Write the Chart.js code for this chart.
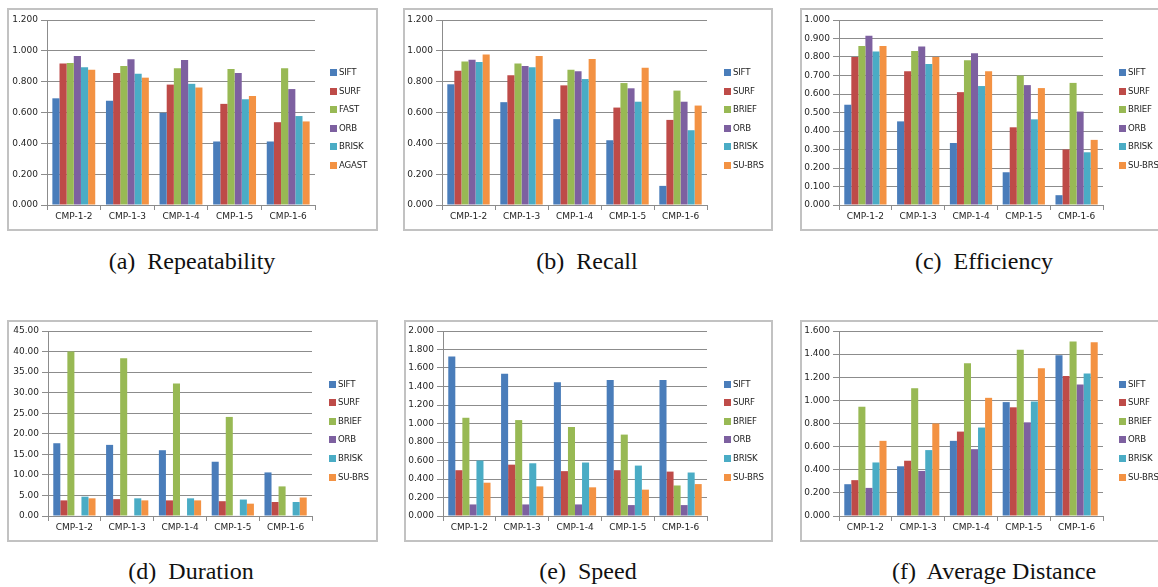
<!DOCTYPE html>
<html>
<head>
<meta charset="utf-8">
<script src="https://cdn.jsdelivr.net/npm/chart.js@4.4.1/dist/chart.umd.min.js"></script>
<style>
  html, body { margin:0; padding:0; background:#fff; }
  body { width:1158px; height:587px; position:relative; overflow:hidden; }
  .frame { position:absolute; box-sizing:border-box; border:2px solid #c2c2c2; background:#fff; }
  .frame canvas { position:absolute; left:0; top:0; }
  .cap { position:absolute; font-family:'Liberation Serif','DejaVu Serif',serif; font-size:24px; color:#111;
         white-space:pre; transform:translate(-50%,-50%); line-height:1; }
</style>
</head>
<body>
<div class="frame" style="left:7px;top:8px;width:371px;height:223px"><canvas id="cA" width="367" height="219"></canvas></div>
<div class="frame" style="left:403px;top:8px;width:370px;height:223px"><canvas id="cB" width="366" height="219"></canvas></div>
<div class="frame" style="left:800px;top:8px;width:362px;height:223px"><canvas id="cC" width="358" height="219"></canvas></div>
<div class="frame" style="left:7px;top:320px;width:371px;height:222px"><canvas id="cD" width="367" height="218"></canvas></div>
<div class="frame" style="left:404px;top:320px;width:369px;height:222px"><canvas id="cE" width="365" height="218"></canvas></div>
<div class="frame" style="left:800px;top:320px;width:362px;height:222px"><canvas id="cF" width="358" height="218"></canvas></div>

<div class="cap" style="left:192px;top:261px">(a)  Repeatability</div>
<div class="cap" style="left:587px;top:261px">(b)  Recall</div>
<div class="cap" style="left:984px;top:261px">(c)  Efficiency</div>
<div class="cap" style="left:191px;top:571px">(d)  Duration</div>
<div class="cap" style="left:588px;top:571px">(e)  Speed</div>
<div class="cap" style="left:994px;top:571px">(f)  Average Distance</div>

<script>
// ---------- DATA ----------
const categories = ['CMP-1-2', 'CMP-1-3', 'CMP-1-4', 'CMP-1-5', 'CMP-1-6'];
const seriesDetectors = ['SIFT', 'SURF', 'FAST', 'ORB', 'BRISK', 'AGAST'];
const seriesMethods = ['SIFT', 'SURF', 'BRIEF', 'ORB', 'BRISK', 'SU-BRS'];
const seriesColors = ['#4A7DBA', '#BE4B48', '#98B954', '#7D60A0', '#4AACC5', '#F39243'];

// rows follow the series order; columns follow categories
const repeatability = [
  [0.692, 0.677, 0.598, 0.412, 0.412],
  [0.918, 0.857, 0.781, 0.656, 0.537],
  [0.921, 0.901, 0.887, 0.882, 0.887],
  [0.966, 0.946, 0.941, 0.857, 0.752],
  [0.893, 0.852, 0.786, 0.686, 0.577],
  [0.877, 0.826, 0.762, 0.707, 0.542]
];
const recall = [
  [0.783, 0.667, 0.557, 0.420, 0.124],
  [0.871, 0.841, 0.776, 0.632, 0.552],
  [0.931, 0.918, 0.878, 0.791, 0.742],
  [0.942, 0.902, 0.867, 0.757, 0.670],
  [0.927, 0.893, 0.817, 0.670, 0.485],
  [0.976, 0.966, 0.947, 0.891, 0.645]
];
const efficiency = [
  [0.542, 0.452, 0.335, 0.177, 0.053],
  [0.800, 0.723, 0.610, 0.420, 0.300],
  [0.859, 0.832, 0.782, 0.700, 0.660],
  [0.915, 0.857, 0.820, 0.648, 0.505],
  [0.830, 0.762, 0.643, 0.463, 0.285],
  [0.860, 0.800, 0.723, 0.632, 0.352]
];
const duration = [
  [17.7, 17.3, 16.0, 13.2, 10.6],
  [3.8, 4.1, 3.8, 3.6, 3.4],
  [40.0, 38.4, 32.2, 24.1, 7.2],
  [0.1, 0.1, 0.1, 0.1, 0.1],
  [4.7, 4.3, 4.3, 4.0, 3.4],
  [4.3, 3.8, 3.8, 3.0, 4.5]
];
const speed = [
  [1.725, 1.537, 1.445, 1.470, 1.470],
  [0.495, 0.555, 0.485, 0.495, 0.480],
  [1.062, 1.037, 0.962, 0.880, 0.330],
  [0.125, 0.125, 0.125, 0.118, 0.118],
  [0.600, 0.570, 0.578, 0.545, 0.470],
  [0.360, 0.320, 0.310, 0.285, 0.345]
];
const avgDistance = [
  [0.275, 0.430, 0.650, 0.985, 1.390],
  [0.310, 0.478, 0.730, 0.940, 1.210],
  [0.945, 1.105, 1.322, 1.437, 1.510],
  [0.243, 0.390, 0.578, 0.810, 1.137],
  [0.463, 0.570, 0.765, 0.990, 1.232],
  [0.650, 0.800, 1.022, 1.278, 1.503]
];

// y axis ranges: [min, max, step, decimals]
const axisRepeatability = [0, 1.2, 0.2, 3];
const axisRecall = [0, 1.2, 0.2, 3];
const axisEfficiency = [0, 1.0, 0.1, 3];
const axisDuration = [0, 45, 5, 2];
const axisSpeed = [0, 2.0, 0.2, 3];
const axisAvgDistance = [0, 1.6, 0.2, 3];

// ---------- RENDERING ----------
const FONT = "'DejaVu Sans', Verdana, sans-serif";
const TEXT = '#1e1e1e';
const GRID = '#8c8c8c';

const sideLegend = {
  id: 'sideLegend',
  afterDraw(chart, args, o) {
    const ctx = chart.ctx, ca = chart.chartArea, ds = chart.data.datasets;
    const sp = o.spacing, n = ds.length;
    const y0 = chart.height / 2 - (n - 1) * sp / 2;
    ctx.save();
    ctx.font = '8.6px ' + FONT;
    if ('letterSpacing' in ctx) ctx.letterSpacing = '-0.2px';
    ctx.textBaseline = 'middle';
    ctx.textAlign = 'left';
    ds.forEach((d, i) => {
      const y = Math.round(y0 + i * sp);
      const x = Math.round(ca.right + o.dx);
      ctx.fillStyle = d.backgroundColor;
      ctx.fillRect(x, y - 4, 7, 7);
      ctx.fillStyle = TEXT;
      ctx.fillText(d.label, x + 9, y);
    });
    ctx.restore();
  }
};

function makeChart(id, names, values, axis, box) {
  const [ymin, ymax, step, dec] = axis;
  const canvas = document.getElementById(id);
  new Chart(canvas, {
    type: 'bar',
    data: {
      labels: categories,
      datasets: names.map((n, i) => ({
        label: n,
        data: values[i],
        backgroundColor: seriesColors[i],
        borderWidth: 0,
        barPercentage: 1.0,
        categoryPercentage: 0.8
      }))
    },
    options: {
      responsive: false,
      animation: false,
      devicePixelRatio: 1,
      layout: { padding: { left: 0, top: box.top, right: canvas.width - box.right, bottom: 0 } },
      plugins: {
        legend: { display: false },
        tooltip: { enabled: false },
        sideLegend: { dx: box.dx, spacing: 18.6 }
      },
      scales: {
        x: {
          offset: true,
          grid: { display: true, offset: true, drawOnChartArea: false, drawTicks: true, tickLength: 5, color: GRID, lineWidth: 1 },
          border: { display: true, color: GRID, width: 1 },
          ticks: { font: { family: FONT, size: 9 }, color: TEXT, padding: 1, maxRotation: 0 },
          afterFit: s => { s.height = canvas.height - box.bottom; }
        },
        y: {
          min: ymin, max: ymax,
          grid: { color: GRID, lineWidth: 1, drawTicks: true, tickLength: 6, tickColor: GRID },
          border: { display: true, color: GRID, width: 1 },
          ticks: { stepSize: step, font: { family: FONT, size: 9 }, color: TEXT, padding: 3,
                   callback: v => Number(v).toFixed(dec) },
          afterFit: s => { s.width = box.left; }
        }
      }
    },
    plugins: [sideLegend]
  });
}

makeChart('cA', seriesDetectors, repeatability, axisRepeatability, { left: 38, top: 10, right: 306, bottom: 195, dx: 15 });
makeChart('cB', seriesMethods, recall, axisRecall, { left: 37, top: 10, right: 302, bottom: 195, dx: 17 });
makeChart('cC', seriesMethods, efficiency, axisEfficiency, { left: 37, top: 10, right: 301, bottom: 195, dx: 16 });
makeChart('cD', seriesMethods, duration, axisDuration, { left: 39, top: 9, right: 303, bottom: 194, dx: 17 });
makeChart('cE', seriesMethods, speed, axisSpeed, { left: 37, top: 9, right: 301, bottom: 194, dx: 17 });
makeChart('cF', seriesMethods, avgDistance, axisAvgDistance, { left: 37, top: 9, right: 301, bottom: 194, dx: 16 });
</script>
</body>
</html>
